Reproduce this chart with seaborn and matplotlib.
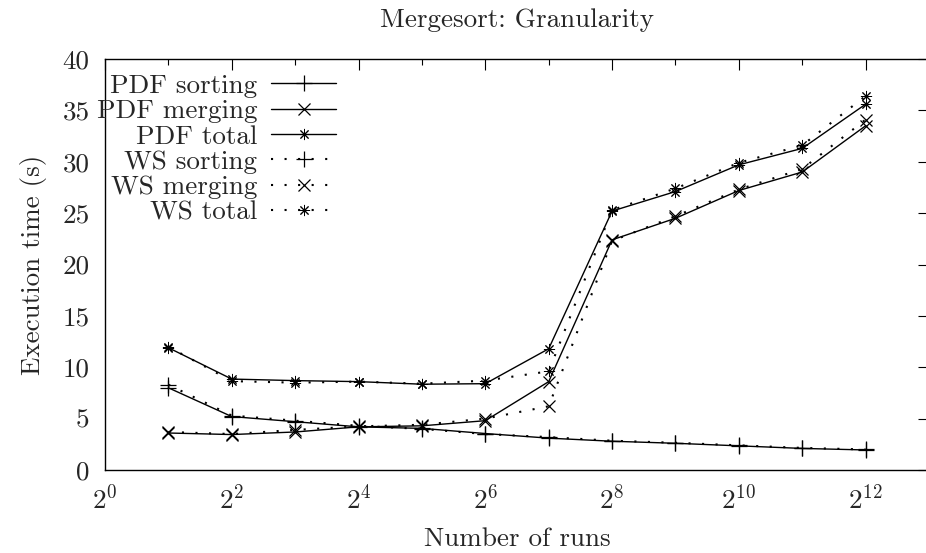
import matplotlib
matplotlib.use("Agg")
import matplotlib.pyplot as plt
import seaborn as sns
import numpy as np
import pandas as pd
from matplotlib.ticker import FixedLocator, FixedFormatter

# ---- data ----
runs = [2**k for k in range(1, 13)]
pdf_sorting = [8.0, 5.2, 4.7, 4.2, 4.05, 3.55, 3.1, 2.8, 2.6, 2.35, 2.1, 1.95]
pdf_merging = [3.6, 3.45, 3.7, 4.2, 4.3, 4.8, 8.6, 22.4, 24.5, 27.2, 29.0, 33.5]
pdf_total = [11.9, 8.85, 8.7, 8.6, 8.35, 8.4, 11.8, 25.2, 27.1, 29.7, 31.3, 35.6]
ws_sorting = [8.3, 5.3, 4.8, 4.3, 4.0, 3.5, 3.2, 2.85, 2.65, 2.4, 2.15, 2.0]
ws_merging = [3.7, 3.5, 3.9, 4.25, 4.4, 5.0, 6.2, 22.3, 24.7, 27.3, 29.3, 34.1]
ws_total = [12.0, 8.65, 8.5, 8.6, 8.4, 8.7, 9.6, 25.3, 27.4, 29.9, 31.6, 36.4]
series_names = ["PDF sorting", "PDF merging", "PDF total",
                "WS sorting", "WS merging", "WS total"]
series_values = [pdf_sorting, pdf_merging, pdf_total,
                 ws_sorting, ws_merging, ws_total]
x_exponents = list(range(0, 13, 2))
x_minor_exponents = list(range(1, 13, 2))
y_ticks = list(range(0, 41, 5))

sns.set_theme(style="white")
plt.rcParams["font.family"] = ["cmr10", "DejaVu Serif"]
plt.rcParams["mathtext.fontset"] = "cm"
plt.rcParams["axes.unicode_minus"] = False
plt.rcParams["axes.formatter.use_mathtext"] = True

FS = 19.5
fig = plt.figure(figsize=(9.26, 5.53), dpi=100)
W, H = 926, 553
left, right, top, bottom = 105, 929, 59, 470
ax = fig.add_axes([left / W, (H - bottom) / H, (right - left) / W, (bottom - top) / H])

markers = {"sorting": "+", "merging": "x", "total": (8, 2, 0)}
msizes = {"sorting": 11, "merging": 9, "total": 8}
mews = {"sorting": 0.9, "merging": 0.9, "total": 0.7}
dotted = (0, (1, 5.5))

rows = []
for name, vals in zip(series_names, series_values):
    for r, v in zip(runs, vals):
        rows.append({"series": name, "runs": r, "time": v})
df = pd.DataFrame(rows)

for name in series_names:
    kind = name.split()[1]
    sub = df[df["series"] == name]
    ls = "-" if name.startswith("PDF") else dotted
    lw = 1.0 if name.startswith("PDF") else 1.5
    sns.lineplot(data=sub, x="runs", y="time", ax=ax, color="black",
                 marker=markers[kind], markersize=msizes[kind],
                 markeredgewidth=mews[kind], markeredgecolor="black",
                 linestyle=ls, linewidth=lw, label=name,
                 errorbar=None, sort=True)

ax.set_xscale("log", base=2)
ax.set_xlim(1, 2**13)
ax.set_ylim(0, 40)
ax.xaxis.set_major_locator(FixedLocator([2**e for e in x_exponents]))
ax.xaxis.set_major_formatter(FixedFormatter([r"$2^{%d}$" % e for e in x_exponents]))
ax.xaxis.set_minor_locator(FixedLocator([2**e for e in x_minor_exponents]))
ax.xaxis.set_minor_formatter(FixedFormatter([""] * len(x_minor_exponents)))
ax.yaxis.set_major_locator(FixedLocator(y_ticks))
ax.set_yticklabels([str(t) for t in y_ticks])

ax.tick_params(which="major", direction="in", length=8, width=0.8,
               top=True, right=True, labelsize=FS, color="black")
ax.tick_params(which="minor", direction="in", length=4, width=0.8,
               top=True, right=False, color="black")
ax.tick_params(axis="x", which="major", pad=10)
ax.tick_params(axis="y", which="major", pad=11)
for s in ax.spines.values():
    s.set_color("black")
    s.set_linewidth(1.0)

ax.set_xlabel("Number of runs", fontsize=FS, labelpad=10)
ax.set_ylabel("Execution time (s)", fontsize=FS, labelpad=11)
fig.text(517 / W, 1 - 20 / H, "Mergesort: Granularity", ha="center", va="center",
         fontsize=FS)

leg = ax.legend(loc="upper right", bbox_to_anchor=(336 / W, 1 - 74 / H),
                bbox_transform=fig.transFigure, frameon=False, markerfirst=False,
                fontsize=FS, borderpad=0, handlelength=2.4, handletextpad=0.5,
                labelspacing=0.05, borderaxespad=0)

fig.savefig("out.png", dpi=100)
